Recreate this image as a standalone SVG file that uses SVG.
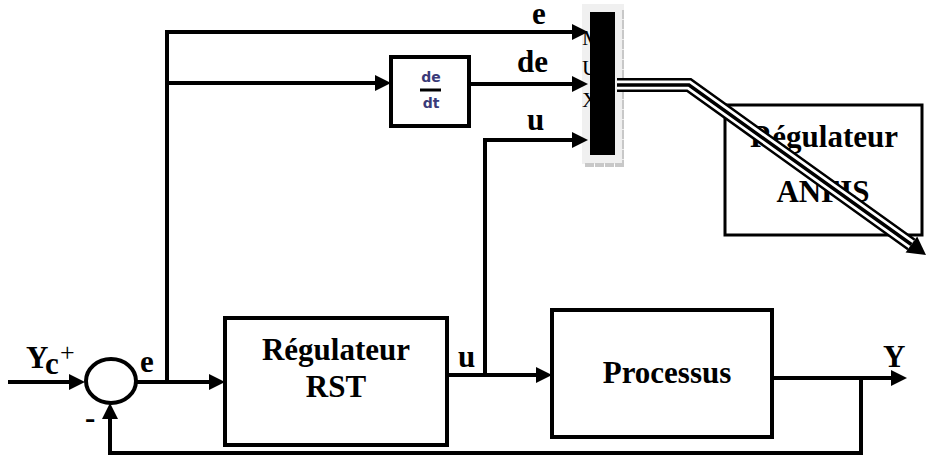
<svg xmlns="http://www.w3.org/2000/svg" width="927" height="473" viewBox="0 0 927 473">
<defs>
<style>
.box{fill:#fff;stroke:#000;stroke-width:4}
.ln{fill:none;stroke:#000;stroke-width:4}
.t{font-family:"Liberation Serif","Times New Roman",serif;font-weight:bold;font-size:31px;fill:#000}
.tm{text-anchor:middle}
.mx{font-family:"Liberation Serif","Times New Roman",serif;font-size:22px;fill:#000}
</style>
<marker id="arr" viewBox="0 0 16 16" refX="12" refY="8" markerWidth="16" markerHeight="16" markerUnits="userSpaceOnUse" orient="auto">
<path d="M0,0 L16,8 L0,16 Z" fill="#000"/>
</marker>
</defs>
<rect width="927" height="473" fill="#fff"/>

<g id="sum">
<ellipse cx="111" cy="381" rx="25" ry="22" fill="#fff" stroke="#000" stroke-width="4"/>
</g>

<g id="rst">
<rect class="box" x="225" y="318" width="222" height="127"/>
<text class="t tm" x="336" y="360">Régulateur</text>
<text class="t tm" x="336" y="397">RST</text>
</g>

<g id="processus">
<rect class="box" x="552" y="310" width="220" height="127"/>
<text class="t tm" x="667" y="383">Processus</text>
</g>

<g id="deriv">
<rect class="box" x="391" y="57" width="78" height="69"/>
<text x="431" y="82" font-family="DejaVu Sans, sans-serif" font-size="14" font-weight="bold" fill="#3a3a78" text-anchor="middle">de</text>
<line x1="420" y1="90" x2="441" y2="90" stroke="#000" stroke-width="3"/>
<text x="431" y="108" font-family="DejaVu Sans, sans-serif" font-size="14" font-weight="bold" fill="#3a3a78" text-anchor="middle">dt</text>
</g>

<g id="mux">
<rect x="582" y="4" width="42" height="160" fill="#f0f0f0"/>
<line x1="623" y1="10" x2="623" y2="166" stroke="#c8c8c8" stroke-width="2" stroke-dasharray="9 1"/>
<line x1="585" y1="165" x2="625" y2="165" stroke="#c8c8c8" stroke-width="4" stroke-dasharray="9 1"/>
<text class="mx" x="582" y="45">M</text>
<text class="mx" x="582" y="75">U</text>
<text class="mx" x="582" y="107">X</text>
<rect x="590" y="12" width="25" height="143" fill="#000"/>
</g>

<g id="anfis">
<rect x="725" y="105" width="197" height="130" fill="#fff" stroke="#000" stroke-width="3"/>
<text class="t tm" x="824" y="147">Régulateur</text>
<text class="t tm" x="823" y="202">ANFIS</text>
</g>

<g id="connectors">
<path class="ln" d="M8,382 H81" marker-end="url(#arr)"/>
<path class="ln" d="M137,382 H221" marker-end="url(#arr)"/>
<path class="ln" d="M167,382 V32 H584" marker-end="url(#arr)"/>
<path class="ln" d="M167,83 H387" marker-end="url(#arr)"/>
<path class="ln" d="M469,84 H584" marker-end="url(#arr)"/>
<path class="ln" d="M447,375 H548" marker-end="url(#arr)"/>
<path class="ln" d="M485,375 V140 H584" marker-end="url(#arr)"/>
<path class="ln" d="M772,378 H903" marker-end="url(#arr)"/>
<path class="ln" d="M861,378 V453 H110 V407" marker-end="url(#arr)"/>
<path d="M617,85 H689 L911.4,244.5" fill="none" stroke="#000" stroke-width="14" stroke-linejoin="miter"/>
<path d="M617,85 H689 L911.4,244.5" fill="none" stroke="#fff" stroke-width="9" stroke-linejoin="miter"/>
<path d="M617,85 H689 L911.4,244.5" fill="none" stroke="#000" stroke-width="3.5" stroke-linejoin="miter"/>
<polygon points="926,255 905.6,252.6 917.2,236.4" fill="#000"/>
</g>

<g id="labels">
<text class="t" x="532" y="24" font-size="30">e</text>
<text class="t" x="517" y="72" font-size="30">de</text>
<text class="t" x="527" y="130" font-size="30">u</text>
<text class="t" x="458" y="367" font-size="30">u</text>
<text class="t" x="140" y="372" font-size="30">e</text>
<text class="t" x="883" y="367" font-size="30">Y</text>
<text class="t" x="26" y="368" font-size="28">Y</text>
<text class="t" x="45" y="374" font-size="19">c</text>
<text x="60" y="361" font-family="Liberation Serif, serif" font-size="26" fill="#000">+</text>
<text class="t" x="85" y="428" font-size="28">-</text>
</g>
</svg>
